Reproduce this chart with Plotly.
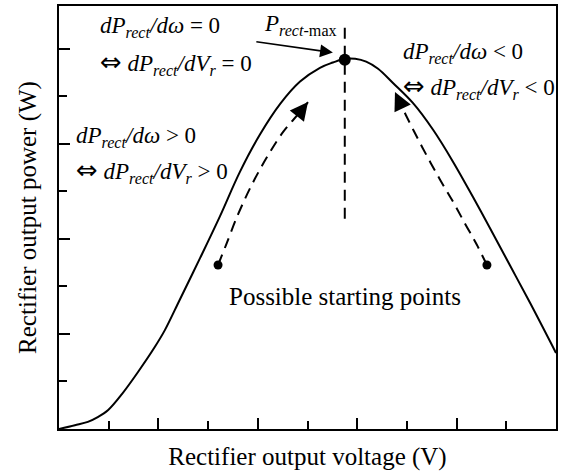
import plotly.graph_objects as go

# ---- data (axis units: 1 = one tick interval) ----
volt = [0, 0.32, 0.58, 0.78, 0.99, 1.27, 1.59, 1.93, 2.13, 2.43, 2.84, 3.24,
        3.64, 4.04, 4.45, 4.85, 5.25, 5.51, 5.75, 5.96, 6.18, 6.42, 6.72,
        7.12, 7.53, 7.93, 8.33, 8.67, 9.07, 9.48, 10.0]
power = [0, 0.08, 0.15, 0.25, 0.40, 0.74, 1.20, 1.73, 2.08, 2.72, 3.60, 4.48,
         5.41, 6.19, 6.84, 7.31, 7.60, 7.71, 7.79, 7.79, 7.73, 7.58, 7.28,
         6.86, 6.29, 5.62, 4.88, 4.23, 3.45, 2.65, 1.60]

peak_v, peak_p = [5.75], [7.77]
mpp_line_v = [5.75, 5.75]
mpp_line_p = [8.44, 4.40]

left_path_v = [3.20, 3.36, 3.60, 3.88, 4.19, 4.51, 4.85, 5.01]
left_path_p = [3.45, 3.87, 4.51, 5.14, 5.73, 6.25, 6.67, 6.88]
right_path_v = [8.61, 8.41, 8.17, 7.93, 7.67, 7.40, 7.14, 6.94, 6.76]
right_path_p = [3.45, 3.87, 4.32, 4.78, 5.24, 5.75, 6.27, 6.69, 7.09]
start_v = [left_path_v[0], right_path_v[0]]
start_p = [left_path_p[0], right_path_p[0]]

major_ticks = [2, 4, 6, 8]
x_minor = [1, 3, 5, 7, 9]
y_minor = [1, 3, 5, 7]

FONT = "Liberation Serif, Times New Roman, serif"
DASH = "11px,7px"
IFF = '<span style="font-family:DejaVu Sans;font-size:26px">⇔</span>'

fig = go.Figure()
fig.add_trace(go.Scatter(x=volt, y=power, mode="lines",
                         line=dict(color="black", width=2, shape="spline", smoothing=1.0)))
fig.add_trace(go.Scatter(x=mpp_line_v, y=mpp_line_p, mode="lines",
                         line=dict(color="black", width=2, dash=DASH)))
fig.add_trace(go.Scatter(x=left_path_v, y=left_path_p, mode="lines",
                         line=dict(color="black", width=2, dash=DASH, shape="spline")))
fig.add_trace(go.Scatter(x=right_path_v, y=right_path_p, mode="lines",
                         line=dict(color="black", width=2, dash=DASH, shape="spline")))
fig.add_trace(go.Scatter(x=start_v, y=start_p, mode="markers",
                         marker=dict(color="black", size=9)))
fig.add_trace(go.Scatter(x=peak_v, y=peak_p, mode="markers",
                         marker=dict(color="black", size=12)))

# arrowheads at the ends of the dashed paths + P_rect-max pointer
arrows = [
    dict(x=left_path_v[-1], y=left_path_p[-1], ax=-11, ay=14),
    dict(x=right_path_v[-1], y=right_path_p[-1], ax=8, ay=17),
]
for a in arrows:
    fig.add_annotation(**a, text="", showarrow=True, arrowhead=2, arrowsize=1.8,
                       arrowwidth=2, arrowcolor="black", standoff=0)
fig.add_annotation(x=5.51, y=7.92, ax=-78, ay=-11, text="", showarrow=True,
                   arrowhead=2, arrowsize=1.6, arrowwidth=1.6, arrowcolor="black")

labels = [
    (0.785, 8.46, "<i>dP<sub>rect</sub></i><i>/dω</i> = 0"),
    (0.785, 7.71, IFF + " <i>dP<sub>rect</sub></i><i>/dV<sub>r</sub></i> = 0"),
    (0.30, 6.15, "<i>dP<sub>rect</sub></i><i>/dω</i> > 0"),
    (0.30, 5.43, IFF + " <i>dP<sub>rect</sub></i><i>/dV<sub>r</sub></i> > 0"),
    (6.88, 7.92, "<i>dP<sub>rect</sub></i><i>/dω</i> < 0"),
    (6.88, 7.20, IFF + " <i>dP<sub>rect</sub></i><i>/dV<sub>r</sub></i> < 0"),
    (4.08, 8.51, "<i>P<sub>rect</sub></i><sub>-max</sub>"),
]
for x, y, t in labels:
    fig.add_annotation(x=x, y=y, text=t, showarrow=False, xanchor="left",
                       yanchor="middle", font=dict(size=23))
fig.add_annotation(x=5.75, y=2.78, text="Possible starting points", showarrow=False,
                   xanchor="center", yanchor="middle", font=dict(size=25))

axis = dict(showline=True, linecolor="black", linewidth=2, mirror=True,
            ticks="inside", tickvals=major_ticks, ticklen=11, tickwidth=2,
            tickcolor="black", showticklabels=False, showgrid=False,
            zeroline=False, automargin=False)
fig.update_xaxes(**axis, range=[0, 10],
                 minor=dict(tickvals=x_minor, ticks="inside", ticklen=8,
                            tickwidth=2, tickcolor="black"),
                 title=dict(text="Rectifier output voltage (V)", font=dict(size=25),
                            standoff=17))
fig.update_yaxes(**axis, range=[0, 8.9],
                 minor=dict(tickvals=y_minor, ticks="inside", ticklen=8,
                            tickwidth=2, tickcolor="black"),
                 title=dict(text="Rectifier output power (W)", font=dict(size=25),
                            standoff=13))
fig.update_layout(width=567, height=472, showlegend=False,
                  margin=dict(l=59, r=11, t=6, b=43),
                  paper_bgcolor="white", plot_bgcolor="white",
                  font=dict(family=FONT, color="black"))
fig.write_html("out.html", config={"displayModeBar": False},
               post_script="document.body.style.margin='0';")
